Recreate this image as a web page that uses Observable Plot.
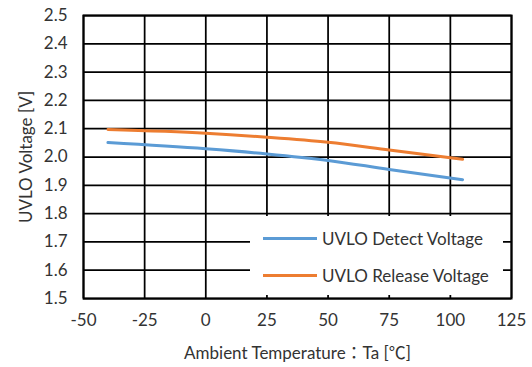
<!DOCTYPE html>
<html>
<head>
<meta charset="utf-8">
<script src="https://cdn.jsdelivr.net/npm/d3@7"></script>
<script src="https://cdn.jsdelivr.net/npm/@observablehq/plot@0.6"></script>
<style>
  html, body { margin: 0; padding: 0; background: #fff; }
  #wrap { position: relative; width: 532px; height: 367px; font-family: Lato, "Noto Sans CJK JP", sans-serif; }
  #legend { position: absolute; left: 250px; top: 216px; width: 253px; height: 79px; background: #fff; }
  .row { position: absolute; left: 13px; height: 20px; display: flex; align-items: center; font-size: 17px; color: #333; white-space: nowrap; }
  .sw { width: 54px; height: 3px; margin-right: 5px; }
</style>
</head>
<body>
<div id="wrap"></div>
<script>
const temps = [-40, 0, 25, 50, 75, 105];
const detect = [2.051, 2.029, 2.011, 1.988, 1.956, 1.920];
const release = [2.097, 2.084, 2.070, 2.052, 2.025, 1.992];
const seriesNames = ["UVLO Detect Voltage", "UVLO Release Voltage"];
const seriesColors = ["#5B9BD5", "#ED7D31"];
const xTicks = [-50, -25, 0, 25, 50, 75, 100, 125];
const yTicks = [1.5, 1.6, 1.7, 1.8, 1.9, 2.0, 2.1, 2.2, 2.3, 2.4, 2.5];
const xTitle = "Ambient Temperature：Ta [℃]";
const yTitle = "UVLO Voltage [V]";

const data = [];
temps.forEach((t, i) => data.push({t, v: detect[i], s: seriesNames[0]}));
temps.forEach((t, i) => data.push({t, v: release[i], s: seriesNames[1]}));

const chart = Plot.plot({
  width: 532,
  height: 367,
  marginLeft: 83,
  marginRight: 21,
  marginTop: 15,
  marginBottom: 69,
  style: {fontFamily: "Lato, 'Noto Sans CJK JP', sans-serif", fontSize: "17px", color: "#333", background: "#fff"},
  x: {domain: [-50, 125]},
  y: {domain: [1.5, 2.5]},
  color: {domain: seriesNames, range: seriesColors},
  marks: [
    Plot.gridX(xTicks, {stroke: "#000", strokeOpacity: 1, strokeWidth: 1.75}),
    Plot.gridY(yTicks, {stroke: "#000", strokeOpacity: 1, strokeWidth: 1.75}),
    Plot.frame({stroke: "#000", strokeWidth: 2}),
    Plot.axisX({ticks: xTicks, tickFormat: d => String(d), tickSize: 0, tickPadding: 15, label: xTitle, labelAnchor: "center", labelOffset: 60, labelArrow: "none"}),
    Plot.axisY({ticks: yTicks, tickFormat: d3.format(".1f"), tickSize: 0, tickPadding: 16, label: yTitle, labelAnchor: "center", labelOffset: 64, labelArrow: "none"}),
    Plot.line(data, {x: "t", y: "v", stroke: "s", strokeWidth: 3, curve: "monotone-x"})
  ]
});
const wrap = document.getElementById("wrap");
wrap.appendChild(chart);

const legend = document.createElement("div");
legend.id = "legend";
seriesNames.forEach((name, i) => {
  const row = document.createElement("div");
  row.className = "row";
  row.style.top = (12 + i * 37) + "px";
  const sw = document.createElement("span");
  sw.className = "sw";
  sw.style.background = seriesColors[i];
  const tx = document.createElement("span");
  tx.textContent = name;
  row.appendChild(sw);
  row.appendChild(tx);
  legend.appendChild(row);
});
wrap.appendChild(legend);
</script>
</body>
</html>
